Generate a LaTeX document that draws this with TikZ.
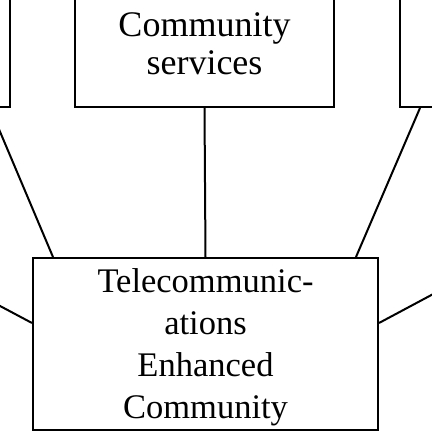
\documentclass[tikz,border=0pt]{standalone}
\usepackage{fontspec}
\setmainfont{Liberation Serif}
\begin{document}
\begin{tikzpicture}[x=1pt,y=-1pt,
  box/.style={draw, line width=2pt, rectangle, inner sep=0pt, align=center},
  conn/.style={line width=2pt}]
\useasboundingbox (0,0) rectangle (432,432);
\clip (0,0) rectangle (432,432);
% boxes
\node[box, minimum width=40pt, minimum height=160pt] (lb) at (-10,27) {};
\node[box, minimum width=40pt, minimum height=160pt] (rb) at (420,27) {};
\node[box, minimum width=259pt, minimum height=126pt,
  font=\fontsize{36}{38.5}\selectfont] (cs) at (204.5,44) {Community\\services};
\node[box, minimum width=345pt, minimum height=172pt, text depth=0pt,
  font=\fontsize{34.5}{42}\selectfont] (tec) at (205.5,344)
  {Telecommunic-\\ations\\Enhanced\\Community};
% free ends
\coordinate (lf) at (-30,290);
\coordinate (rf) at (452,284);
% connectors
\draw[conn] (cs.south) -- (tec.north);
\draw[conn] (lb.south) -- ([xshift=-152.5pt]tec.north);
\draw[conn] (rb.south) -- ([xshift=150.5pt]tec.north);
\draw[conn] (lf) -- ([yshift=21pt]tec.west);
\draw[conn] (rf) -- ([yshift=21pt]tec.east);
\end{tikzpicture}
\end{document}
